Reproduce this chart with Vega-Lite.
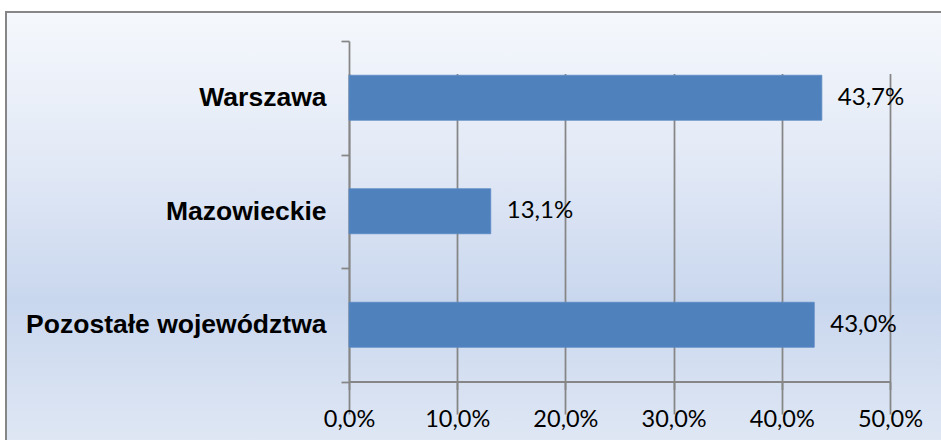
{
  "$schema": "https://vega.github.io/schema/vega-lite/v6.json",
  "width": 937,
  "height": 431,
  "autosize": {"type": "none"},
  "padding": {"left": 6, "top": 12, "right": 0, "bottom": 0},
  "background": "white",
  "config": {
    "locale": {"number": {"decimal": ",", "thousands": " ", "grouping": [3], "currency": ["", " zł"]}},
    "view": {
      "stroke": "#868686",
      "strokeWidth": 2,
      "fill": {
        "gradient": "linear",
        "x1": 0, "y1": 0, "x2": 0, "y2": 1,
        "stops": [
          {"offset": 0, "color": "#f5f8fc"},
          {"offset": 0.35, "color": "#e2e9f6"},
          {"offset": 0.67, "color": "#c9d7ee"},
          {"offset": 1, "color": "#dfe7f4"}
        ]
      }
    }
  },
  "data": {
    "values": [
      {"region": "Warszawa", "share": 0.437},
      {"region": "Mazowieckie", "share": 0.131},
      {"region": "Pozostałe województwa", "share": 0.430}
    ]
  },
  "encoding": {
    "y": {
      "field": "region",
      "type": "nominal",
      "sort": null,
      "scale": {"range": [29, 369.5], "paddingInner": 0, "paddingOuter": 0},
      "axis": {
        "title": null,
        "offset": -343,
        "domainColor": "#868686",
        "domainWidth": 1.75,
        "tickColor": "#868686",
        "tickWidth": 1.75,
        "tickSize": 8,
        "tickBand": "extent",
        "labelPadding": 15,
        "labelFont": "Liberation Sans",
        "labelFontWeight": "bold",
        "labelFontSize": 26.5,
        "labelColor": "#000000",
        "labelLimit": 400,
        "grid": false
      }
    },
    "x": {
      "field": "share",
      "type": "quantitative",
      "scale": {"domain": [0, 0.5], "range": [343, 884], "nice": false, "zero": false},
      "axis": {
        "title": null,
        "orient": "bottom",
        "offset": -61.5,
        "values": [0, 0.1, 0.2, 0.3, 0.4, 0.5],
        "format": ".1%",
        "labelFlush": false,
        "domain": true,
        "domainColor": "#868686",
        "domainWidth": 2,
        "tickColor": "#868686",
        "tickWidth": 1.75,
        "tickSize": 8,
        "grid": true,
        "gridColor": "#868686",
        "gridWidth": 1.75,
        "labelPadding": 17.5,
        "labelFont": "Lato",
        "labelFontSize": 23.5,
        "labelColor": "#000000"
      }
    }
  },
  "layer": [
    {
      "mark": {"type": "bar", "color": "#4f81bd", "stroke": "#5a8ac4", "strokeWidth": 0.8, "height": {"band": 0.3965}}
    },
    {
      "mark": {"type": "text", "align": "left", "baseline": "middle", "dx": 16, "font": "Lato", "fontSize": 24, "color": "#000000"},
      "encoding": {
        "text": {"field": "share", "type": "quantitative", "format": ".1%"}
      }
    }
  ]
}
